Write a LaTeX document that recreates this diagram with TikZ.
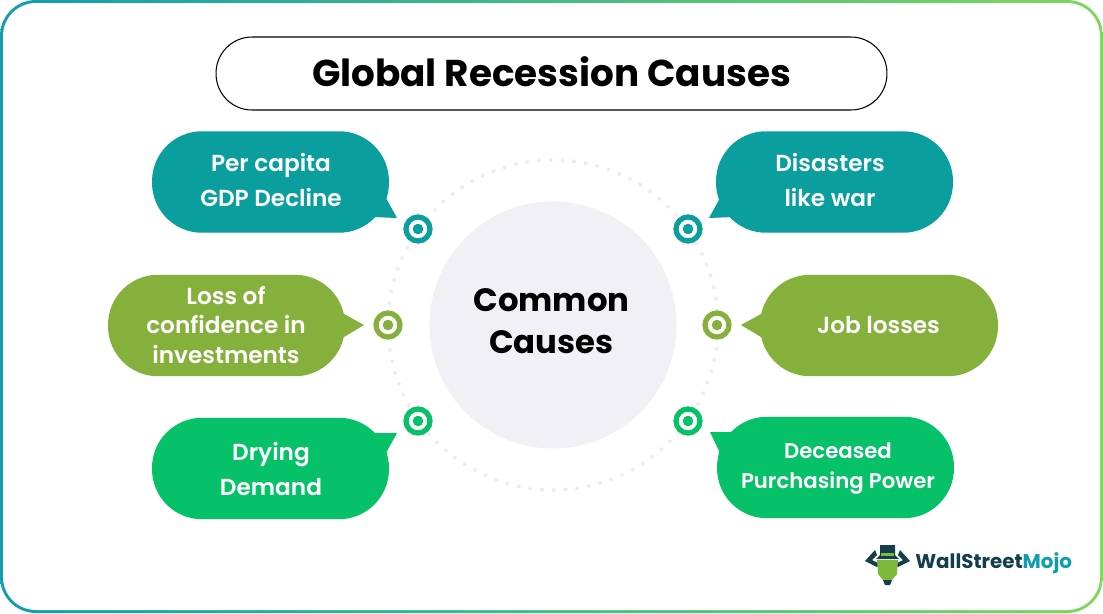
\documentclass[tikz,border=0pt]{standalone}
\usepackage{fontspec}
\setmainfont{Poppins}
\newfontfamily\medfont{Poppins SemiBold}
\definecolor{tealbub}{HTML}{0A9E9E}
\definecolor{olivebub}{HTML}{86B03C}
\definecolor{greenbub}{HTML}{06C167}
\definecolor{hubgray}{HTML}{F0F0F5}
\definecolor{dotgray}{HTML}{ECECF2}
\definecolor{logodark}{HTML}{123F4B}
\definecolor{logoblue}{HTML}{0E9EAE}
\definecolor{logogreen}{HTML}{7DB83A}
\definecolor{framegreen}{HTML}{7DD85A}
\tikzset{
  bubble/.style={rounded corners=1cm, minimum width=4.74cm, minimum height=2.03cm, inner sep=0pt},
  bubtext/.style={text=white, align=center, inner sep=0pt, font=\medfont\fontsize{13.2}{19.8}\selectfont},
  target/.style={draw=#1, line width=0.105cm, fill=white},
}
\begin{document}
\begin{tikzpicture}[x=0.02cm,y=-0.02cm]
    \useasboundingbox (0,0) rectangle (1103,613);

    % OUTER FRAME
    \shade[left color=logoblue, right color=framegreen, rounded corners=0.72cm] (0,0) rectangle (1103,613);
    \fill[white, rounded corners=0.66cm] (3,3) rectangle (1100,610);

    % TITLE
    \node[draw=black, line width=0.6pt, fill=white, rounded corners=0.72cm, minimum width=13.42cm, minimum height=1.46cm, inner sep=0pt,
          font=\fontsize{21.25}{26}\selectfont\bfseries] (title) at (551.5,73.5) {\raisebox{2.2pt}{Global Recession Causes}};

    % DOTTED RING AND HUB
    \draw[dotgray, line width=0.08cm, line cap=round, dash pattern=on 0pt off 0.235cm] (553,325) circle[radius=165];
    \node[circle, fill=hubgray, minimum size=4.94cm, inner sep=0pt] (hub) at (553,325) {};
    \node[align=center, inner sep=0pt, font=\fontsize{18.4}{23.8}\selectfont\bfseries] (hublabel) at (551.5,321.5) {Common\\Causes};

    % LEFT BUBBLES
    \node[bubble, fill=tealbub] (gdp) at (270.5,182) {};
    \fill[tealbub] (386,198) -- (397,218) -- (373,217) -- cycle;
    \node[bubtext] (gdplabel) at (271,180) {Per capita\\GDP Decline};

    \node[bubble, fill=olivebub] (loss) at (226.5,325.5) {};
    \fill[olivebub] (344,314) -- (364,325) -- (344,337) -- cycle;
    \node[bubtext, font=\medfont\fontsize{13.2}{16.8}\selectfont] (losslabel) at (226,325) {Loss of\\confidence in\\investments};

    \node[bubble, fill=greenbub] (drying) at (270.5,468.5) {};
    \fill[greenbub] (373,433) -- (397,433) -- (386,453) -- cycle;
    \node[bubtext] (dryinglabel) at (271,469) {Drying\\Demand};

    % RIGHT BUBBLES
    \node[bubble, fill=tealbub] (war) at (834.5,182) {};
    \fill[tealbub] (720,198) -- (709,218) -- (733,217) -- cycle;
    \node[bubtext] (warlabel) at (830,180) {Disasters\\like war};

    \node[bubble, fill=olivebub, minimum width=4.76cm] (job) at (879,325.5) {};
    \fill[olivebub] (761,314) -- (741,325) -- (761,337) -- cycle;
    \node[bubtext] (joblabel) at (878.5,325) {Job losses};

    \node[bubble, fill=greenbub] (power) at (835.5,467.5) {};
    \fill[greenbub] (732,432) -- (710,432) -- (720,453) -- cycle;
    \node[bubtext, font=\medfont\fontsize{12.1}{17.6}\selectfont] (powerlabel) at (838,468.5) {Deceased\\Purchasing Power};

    % TARGET MARKS
    \foreach \px/\py/\col in {418/229/tealbub, 688/229/tealbub, 388/325/olivebub, 717/325/olivebub, 418/421/greenbub, 688/421/greenbub}{
        \draw[target=\col] (\px,\py) circle[radius=12];
        \fill[\col] (\px,\py) circle[radius=5.3];
    }

    % LOGO
    \fill[logodark] (880,545) -- (895,545) -- (895,555) -- (899,559) -- (876,559) -- (880,555) -- cycle;
    \fill[logogreen] (881,553) rectangle (894,556);
    \fill[logodark] (875,550) -- (865,561) -- (877,567) -- (880,564) -- (872,560) -- (877,555) -- cycle;
    \fill[logodark] (900,550) -- (910,561) -- (898,567) -- (895,564) -- (903,560) -- (898,555) -- cycle;
    \fill[logogreen] (877,560) -- (898,560) -- (897,574) -- (892,580) -- (883,580) -- (878,574) -- cycle;
    \fill[logodark] (883,580) -- (892,580) -- (890,585) -- (885,585) -- cycle;
    \node[inner sep=0pt, anchor=west, font=\fontsize{11.3}{14}\selectfont\bfseries] (logotext) at (915,563) {\textcolor{logodark}{WallStreet}\textcolor{logoblue}{Mojo}};
\end{tikzpicture}
\end{document}
